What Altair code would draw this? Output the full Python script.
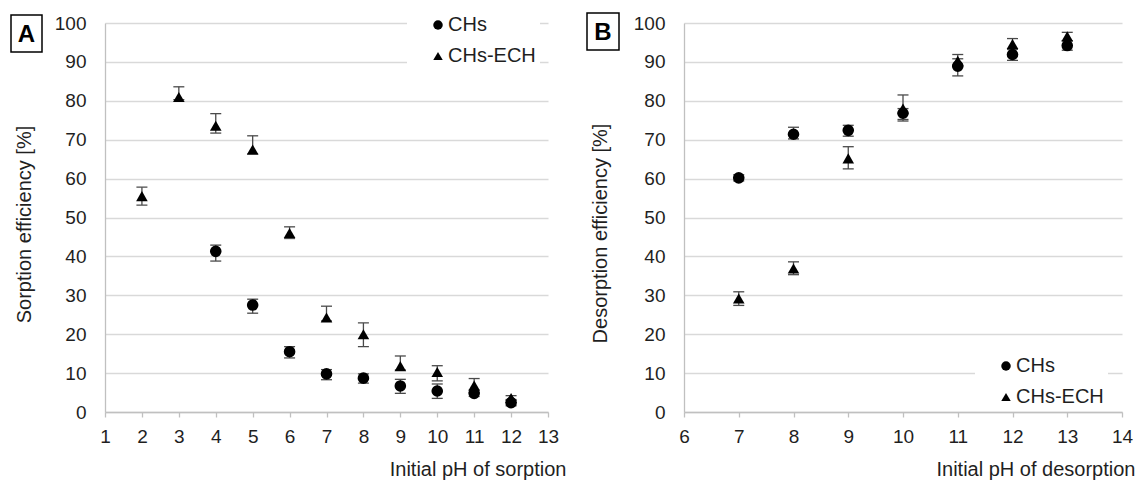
import altair as alt
import pandas as pd

# ---------------- Panel A: sorption ----------------
sorp_ph_chs = [4, 5, 6, 7, 8, 9, 10, 11, 12]
sorp_chs = [41.3, 27.5, 15.5, 9.8, 8.7, 6.7, 5.4, 4.8, 2.4]
sorp_chs_lo = [38.8, 25.4, 13.9, 8.3, 7.4, 4.8, 3.5, 4.0, 1.6]
sorp_chs_hi = [42.9, 29.0, 16.8, 10.9, 9.8, 8.4, 7.2, 5.6, 3.2]

sorp_ph_ech = [2, 3, 4, 5, 6, 7, 8, 9, 10, 11, 12]
sorp_ech = [55.5, 81.0, 73.6, 67.5, 46.0, 24.3, 20.0, 11.8, 10.3, 6.8, 3.6]
sorp_ech_lo = [53.2, 80.3, 71.7, 66.3, 44.6, 23.4, 16.8, 10.8, 8.0, 5.0, 3.0]
sorp_ech_hi = [57.8, 83.6, 76.7, 71.0, 47.6, 27.2, 22.9, 14.4, 11.9, 8.6, 4.2]

# ---------------- Panel B: desorption ----------------
desorp_ph = [7, 8, 9, 10, 11, 12, 13]
desorp_chs = [60.2, 71.4, 72.4, 76.8, 88.9, 91.9, 94.2]
desorp_chs_lo = [59.4, 70.2, 70.9, 75.2, 86.4, 90.4, 93.0]
desorp_chs_hi = [61.0, 73.2, 73.7, 78.0, 90.8, 93.3, 95.4]

desorp_ech = [29.2, 36.9, 65.2, 78.0, 90.3, 94.6, 96.6]
desorp_ech_lo = [27.4, 35.3, 62.5, 74.8, 88.9, 93.2, 95.4]
desorp_ech_hi = [30.9, 38.6, 68.2, 81.5, 91.9, 96.0, 97.6]

series_names = ["CHs", "CHs-ECH"]
series_shapes = ["circle", "triangle-up"]
x_ticks_a = list(range(1, 14))
x_ticks_b = list(range(6, 15))
y_ticks = list(range(0, 101, 10))
panel_labels = ["A", "B"]
x_titles = ["Initial pH of sorption", "Initial pH of desorption"]
y_titles = ["Sorption efficiency [%]", "Desorption efficiency [%]"]

FONT = "Liberation Sans"
TEXT = "#1f1f1f"
GRID = "#d9d9d9"
AXIS = "#c0c0c0"
ERR = "#4a4a4a"


def make_df(ph1, v1, lo1, hi1, ph2, v2, lo2, hi2):
    a = pd.DataFrame({"ph": ph1, "val": v1, "lo": lo1, "hi": hi1, "series": series_names[0]})
    b = pd.DataFrame({"ph": ph2, "val": v2, "lo": lo2, "hi": hi2, "series": series_names[1]})
    return pd.concat([a, b], ignore_index=True)


df_a = make_df(sorp_ph_chs, sorp_chs, sorp_chs_lo, sorp_chs_hi,
               sorp_ph_ech, sorp_ech, sorp_ech_lo, sorp_ech_hi)
df_b = make_df(desorp_ph, desorp_chs, desorp_chs_lo, desorp_chs_hi,
               desorp_ph, desorp_ech, desorp_ech_lo, desorp_ech_hi)


def panel(df, idx, xticks, width, height, title_x, ytitle_x, ytitle_y, legend_xy, box):
    xenc = alt.X(
        "ph:Q",
        scale=alt.Scale(domain=[xticks[0], xticks[-1]], nice=False, zero=False),
        axis=alt.Axis(
            values=xticks, title=x_titles[idx], grid=False, format="d", labelFlush=False,
            tickSize=5, tickColor=AXIS, tickWidth=1.3,
            domainColor=AXIS, domainWidth=1.3,
            labelFontSize=19, labelPadding=10, labelColor=TEXT, labelFont=FONT,
            titleFontSize=20, titleFontWeight="normal", titleColor=TEXT, titleFont=FONT,
            titleX=title_x, titleY=57, titleAlign="right", titleBaseline="middle",
        ),
    )

    def yenc(field):
        return alt.Y(
            f"{field}:Q",
            scale=alt.Scale(domain=[0, 100], nice=False),
            axis=alt.Axis(
                values=y_ticks, title=y_titles[idx], grid=True, gridColor=GRID, gridWidth=1.3,
                ticks=False, domainColor=AXIS, domainWidth=1.3, labelFlush=False,
                labelFontSize=19, labelPadding=19, labelColor=TEXT, labelFont=FONT,
                titleFontSize=20, titleFontWeight="normal", titleColor=TEXT, titleFont=FONT,
                titleX=ytitle_x, titleY=ytitle_y, titleAlign="center", titleBaseline="middle",
                titleAngle=270,
            ),
        )

    base = alt.Chart(df)
    rule = base.mark_rule(color=ERR, strokeWidth=1.3).encode(x=xenc, y=yenc("lo"), y2="hi:Q")
    cap_lo = base.mark_tick(orient="horizontal", size=11, thickness=1.3, color=ERR, opacity=1).encode(
        x=xenc, y=yenc("lo"))
    cap_hi = base.mark_tick(orient="horizontal", size=11, thickness=1.3, color=ERR, opacity=1).encode(
        x=xenc, y=yenc("hi"))
    pts = base.mark_point(filled=True, color="black", opacity=1, size=135).encode(
        x=xenc, y=yenc("val"),
        shape=alt.Shape(
            "series:N",
            scale=alt.Scale(domain=series_names, range=series_shapes),
            legend=alt.Legend(
                title=None, orient="none", legendX=legend_xy[0], legendY=legend_xy[1],
                direction="vertical", fillColor="white", padding=4, symbolOffset=17,
                labelFontSize=20, labelFont=FONT, labelColor=TEXT, labelOffset=0,
                rowPadding=11, symbolSize=90, symbolFillColor="black",
                symbolStrokeColor="black", symbolStrokeWidth=0,
            ),
        ),
    )
    lab_df = pd.DataFrame({"label": [panel_labels[idx]]})
    rect = alt.Chart(lab_df).mark_rect(fill="white", stroke="black", strokeWidth=1.5).encode(
        x=alt.value(box[0]), x2=alt.value(box[1]), y=alt.value(box[2]), y2=alt.value(box[3]))
    txt = alt.Chart(lab_df).mark_text(
        font=FONT, fontSize=24, fontWeight="bold", color="black", baseline="middle", align="center"
    ).encode(
        text="label:N",
        x=alt.value((box[0] + box[1]) / 2), y=alt.value((box[2] + box[3]) / 2 + 1))
    return alt.layer(rule, cap_lo, cap_hi, pts, rect, txt).properties(width=width, height=height)


left = panel(df_a, 0, x_ticks_a, 443, 389, 461, -81, 201, (302, -12), (-94, -63, -8, 29))
right = panel(df_b, 1, x_ticks_b, 438, 389, 451, -84, 210, (291, 329), (-97, -65, -10, 27))

chart = alt.hconcat(left, right, spacing=136, bounds="flush").resolve_scale(
    x="independent", y="independent", shape="independent"
).resolve_legend(shape="independent").properties(
    padding={"left": 2, "top": 3, "right": 0, "bottom": 2}
).configure(font=FONT).configure_view(stroke=None)

chart.save("out.html", embed_options={"renderer": "svg", "actions": False})
